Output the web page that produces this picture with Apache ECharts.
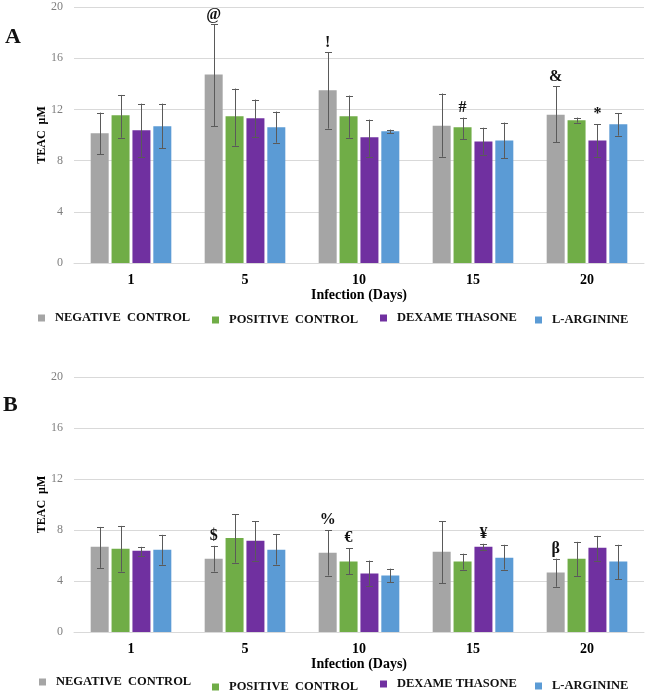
<!DOCTYPE html>
<html>
<head>
<meta charset="utf-8">
<script src="https://cdn.jsdelivr.net/npm/echarts@6/dist/echarts.min.js"></script>
<style>
html,body{margin:0;padding:0;background:#fff;}
#chart{width:645px;height:697px;}
</style>
</head>
<body>
<div id="chart"></div>
<script>
// ---------- data ----------
const categories = ['1', '5', '10', '15', '20'];
const seriesNames = ['NEGATIVE  CONTROL', 'POSITIVE  CONTROL', 'DEXAME THASONE', 'L-ARGININE'];
const yTicks = [0, 4, 8, 12, 16, 20];

// Panel A (TEAC µM): means, error bar tops, error bar bottoms
const aNegative = [10.13, 14.73, 13.50, 10.73, 11.59];
const aNegativeHi = [11.75, 18.64, 16.45, 13.24, 13.79];
const aNegativeLo = [8.51, 10.70, 10.50, 8.30, 9.45];
const aPositive = [11.54, 11.46, 11.46, 10.60, 11.15];
const aPositiveHi = [13.13, 13.63, 13.08, 11.36, 11.36];
const aPositiveLo = [9.79, 9.16, 9.79, 9.69, 10.97];
const aDexa = [10.37, 11.31, 9.82, 9.50, 9.58];
const aDexaHi = [12.45, 12.77, 11.20, 10.57, 10.84];
const aDexaLo = [8.30, 9.85, 8.30, 8.46, 8.30];
const aArginine = [10.68, 10.60, 10.29, 9.58, 10.84];
const aArginineHi = [12.45, 11.83, 10.42, 10.97, 11.72];
const aArginineLo = [8.95, 9.40, 10.13, 8.20, 9.95];
// annotations: [category index, series index, symbol]
const aMarks = [[1, 0, '@'], [2, 0, '!'], [3, 1, '#'], [4, 0, '&'], [4, 2, '*']];

// Panel B
const bNegative = [6.68, 5.75, 6.22, 6.30, 4.66];
const bNegativeHi = [8.24, 6.76, 8.00, 8.70, 5.75];
const bNegativeLo = [5.03, 4.74, 4.43, 3.81, 3.55];
const bPositive = [6.53, 7.38, 5.52, 5.52, 5.75];
const bPositiveHi = [8.32, 9.25, 6.58, 6.14, 7.07];
const bPositiveLo = [4.74, 5.44, 4.51, 4.90, 4.40];
const bDexa = [6.37, 7.15, 4.59, 6.68, 6.61];
const bDexaHi = [6.68, 8.70, 5.60, 6.92, 7.54];
const bDexaLo = [5.98, 5.60, 3.63, 6.40, 5.60];
const bArginine = [6.45, 6.45, 4.43, 5.83, 5.52];
const bArginineHi = [7.62, 7.69, 4.97, 6.84, 6.84];
const bArginineLo = [5.28, 5.29, 3.89, 4.90, 4.12];
const bMarks = [[1, 0, '$'], [2, 0, '%'], [2, 1, '€'], [3, 2, '¥'], [4, 0, 'β']];

// ---------- styling ----------
const colors = ['#a5a5a5', '#70ad47', '#7030a0', '#5b9bd5'];
const SERIF = '"Liberation Serif", "Times New Roman", serif';
const BAR_W = 18, BAR_GAP = 0.16;
const STEP = BAR_W * (1 + BAR_GAP);

const panels = [
  { means: [aNegative, aPositive, aDexa, aArginine], hi: [aNegativeHi, aPositiveHi, aDexaHi, aArginineHi],
    lo: [aNegativeLo, aPositiveLo, aDexaLo, aArginineLo], marks: aMarks },
  { means: [bNegative, bPositive, bDexa, bArginine], hi: [bNegativeHi, bPositiveHi, bDexaHi, bArginineHi],
    lo: [bNegativeLo, bPositiveLo, bDexaLo, bArginineLo], marks: bMarks }
];

const series = [];
panels.forEach((p, gi) => {
  p.means.forEach((vals, si) => {
    series.push({
      name: seriesNames[si], type: 'bar', xAxisIndex: gi, yAxisIndex: gi,
      data: vals, barWidth: BAR_W, barGap: (BAR_GAP * 100) + '%',
      itemStyle: { color: colors[si] }, emphasis: { disabled: true }, z: 2
    });
  });
  const errData = [];
  p.means.forEach((vals, si) => {
    vals.forEach((v, ci) => errData.push([ci, si, p.lo[si][ci], p.hi[si][ci]]));
  });
  series.push({
    type: 'custom', xAxisIndex: gi, yAxisIndex: gi, z: 5, silent: true,
    data: errData,
    renderItem: function (params, api) {
      const ci = api.value(0), si = api.value(1);
      const top = api.coord([ci, api.value(3)]);
      const bot = api.coord([ci, api.value(2)]);
      const x = Math.round(top[0] + (si - 1.5) * STEP) + 0.5;
      const st = { stroke: '#5a5a5a', lineWidth: 1 };
      return { type: 'group', children: [
        { type: 'line', shape: { x1: x, y1: top[1], x2: x, y2: bot[1] }, style: st },
        { type: 'line', shape: { x1: x - 3.5, y1: Math.round(top[1]) + 0.5, x2: x + 3.5, y2: Math.round(top[1]) + 0.5 }, style: st },
        { type: 'line', shape: { x1: x - 3.5, y1: Math.round(bot[1]) + 0.5, x2: x + 3.5, y2: Math.round(bot[1]) + 0.5 }, style: st }
      ] };
    }
  });
  const markData = p.marks.map(m => [m[0], m[1], p.hi[m[1]][m[0]]]);
  series.push({
    type: 'custom', xAxisIndex: gi, yAxisIndex: gi, z: 6, silent: true,
    data: markData,
    renderItem: function (params, api) {
      const ci = api.value(0), si = api.value(1);
      const pt = api.coord([ci, api.value(2)]);
      const sym = p.marks[params.dataIndex][2];
      return { type: 'text', x: pt[0] + (si - 1.5) * STEP, y: pt[1] - 10,
        style: { text: sym, fill: '#111', font: 'bold 16px ' + SERIF, textAlign: 'center', textVerticalAlign: 'middle' } };
    }
  });
});

function xAxis(gi, nameGap) {
  return {
    type: 'category', gridIndex: gi, data: categories,
    axisLine: { lineStyle: { color: '#d9d9d9' } }, axisTick: { show: false },
    axisLabel: { color: '#000', fontFamily: SERIF, fontWeight: 'bold', fontSize: 14, margin: 10 },
    name: 'Infection (Days)', nameLocation: 'middle', nameGap: nameGap,
    nameTextStyle: { color: '#000', fontFamily: SERIF, fontWeight: 'bold', fontSize: 14 }
  };
}
function yAxis(gi) {
  return {
    type: 'value', gridIndex: gi, min: yTicks[0], max: yTicks[yTicks.length - 1], interval: yTicks[1] - yTicks[0],
    axisLine: { show: false }, axisTick: { show: false },
    splitLine: { lineStyle: { color: '#d9d9d9' } },
    axisLabel: { color: '#7f7f7f', fontFamily: SERIF, fontSize: 12, margin: 11 },
    name: 'TEAC  μM', nameLocation: 'middle', nameGap: 26, nameRotate: 90, nameMoveOverlap: false,
    nameTextStyle: { color: '#000', fontFamily: SERIF, fontWeight: 'bold', fontSize: 12 }
  };
}

// legend items: [name index, left, centre y]
const legendSpec = [
  [0, 38, 318], [1, 212, 320], [2, 380, 318], [3, 535, 320],
  [0, 39, 682], [1, 212, 687], [2, 380, 684], [3, 535, 686]
];
const legends = legendSpec.map(l => ({
  data: [seriesNames[l[0]]], left: l[1], top: l[2] - 7, padding: 0,
  icon: 'rect', itemWidth: 7, itemHeight: 7, itemGap: 0, selectedMode: false,
  textStyle: { color: '#111', fontFamily: SERIF, fontWeight: 'bold', fontSize: 12.5, lineHeight: 14, padding: [0, 0, 0, 5] }
}));

const option = {
  animation: false,
  color: colors,
  title: [
    { text: 'A', left: 5, top: 26, padding: 0, textStyle: { fontFamily: SERIF, fontWeight: 'bold', fontSize: 22, color: '#111' } },
    { text: 'B', left: 3, top: 394, padding: 0, textStyle: { fontFamily: SERIF, fontWeight: 'bold', fontSize: 22, color: '#111' } }
  ],
  legend: legends,
  grid: [
    { left: 74, right: 1, top: 7, height: 256 },
    { left: 74, right: 1, top: 377, height: 255 }
  ],
  xAxis: [xAxis(0, 25), xAxis(1, 24)],
  yAxis: [yAxis(0), yAxis(1)],
  series: series
};

const chart = echarts.init(document.getElementById('chart'), null, { renderer: 'canvas' });
chart.setOption(option);
</script>
</body>
</html>
